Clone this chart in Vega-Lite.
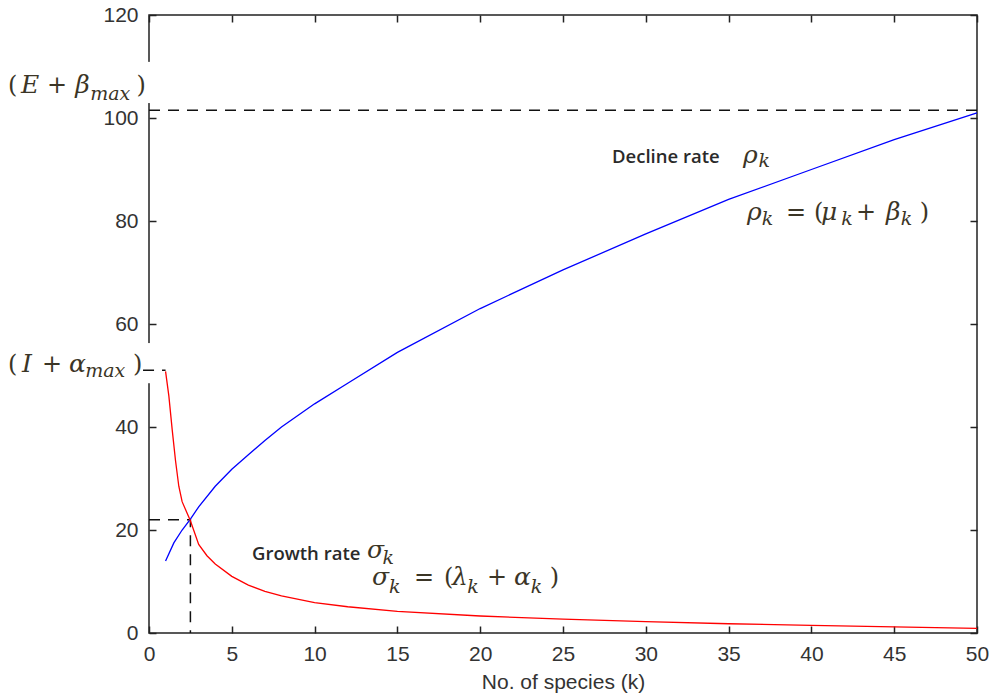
{
  "$schema": "https://vega.github.io/schema/vega-lite/v6.json",
  "width": 828,
  "height": 618,
  "autosize": {"type": "none"},
  "padding": {"left": 149, "top": 15, "right": 12, "bottom": 67},
  "background": "white",
  "config": {
    "view": {"stroke": "#222", "strokeWidth": 1.5},
    "axis": {"grid": false, "domain": false, "labelFlush": false, "tickColor": "#222", "tickWidth": 1.5, "tickSize": -7, "labelFont": "Liberation Sans", "labelFontSize": 21, "labelColor": "#333", "titleFont": "Liberation Sans", "titleFontSize": 21, "titleFontWeight": "normal", "titleColor": "#333"}
  },
  "datasets": {
    "curves": [
      {"k": 1, "v": 14.0, "s": "rho"},
      {"k": 1.5, "v": 17.5, "s": "rho"},
      {"k": 2, "v": 20.0, "s": "rho"},
      {"k": 2.5, "v": 22.1, "s": "rho"},
      {"k": 3, "v": 24.5, "s": "rho"},
      {"k": 4, "v": 28.5, "s": "rho"},
      {"k": 5, "v": 31.8, "s": "rho"},
      {"k": 6, "v": 34.6, "s": "rho"},
      {"k": 7, "v": 37.4, "s": "rho"},
      {"k": 8, "v": 40.0, "s": "rho"},
      {"k": 10, "v": 44.5, "s": "rho"},
      {"k": 12, "v": 48.5, "s": "rho"},
      {"k": 15, "v": 54.5, "s": "rho"},
      {"k": 20, "v": 63.0, "s": "rho"},
      {"k": 25, "v": 70.5, "s": "rho"},
      {"k": 30, "v": 77.5, "s": "rho"},
      {"k": 35, "v": 84.2, "s": "rho"},
      {"k": 40, "v": 90.0, "s": "rho"},
      {"k": 45, "v": 95.8, "s": "rho"},
      {"k": 50, "v": 101.0, "s": "rho"},
      {"k": 1, "v": 50.8, "s": "sigma"},
      {"k": 1.2, "v": 46.0, "s": "sigma"},
      {"k": 1.4, "v": 39.5, "s": "sigma"},
      {"k": 1.6, "v": 33.5, "s": "sigma"},
      {"k": 1.8, "v": 28.5, "s": "sigma"},
      {"k": 2, "v": 25.5, "s": "sigma"},
      {"k": 2.5, "v": 21.8, "s": "sigma"},
      {"k": 3, "v": 17.2, "s": "sigma"},
      {"k": 3.5, "v": 15.0, "s": "sigma"},
      {"k": 4, "v": 13.4, "s": "sigma"},
      {"k": 5, "v": 11.0, "s": "sigma"},
      {"k": 6, "v": 9.3, "s": "sigma"},
      {"k": 7, "v": 8.1, "s": "sigma"},
      {"k": 8, "v": 7.2, "s": "sigma"},
      {"k": 10, "v": 5.9, "s": "sigma"},
      {"k": 12, "v": 5.1, "s": "sigma"},
      {"k": 15, "v": 4.2, "s": "sigma"},
      {"k": 20, "v": 3.3, "s": "sigma"},
      {"k": 25, "v": 2.7, "s": "sigma"},
      {"k": 30, "v": 2.2, "s": "sigma"},
      {"k": 35, "v": 1.8, "s": "sigma"},
      {"k": 40, "v": 1.5, "s": "sigma"},
      {"k": 45, "v": 1.2, "s": "sigma"},
      {"k": 50, "v": 0.9, "s": "sigma"}
    ],
    "dashes": [
      {"k": 0, "v": 101.5, "g": "a"},
      {"k": 50, "v": 101.5, "g": "a"},
      {"k": 0, "v": 22, "g": "b"},
      {"k": 2.5, "v": 22, "g": "b"},
      {"k": 2.5, "v": 0, "g": "b"},
      {"k": -0.36, "v": 51, "g": "c"},
      {"k": 1, "v": 51, "g": "c"}
    ],
    "gaps": [
      {"k": 0, "v": 102.9, "v2": 110.9},
      {"k": 0, "v": 48.5, "v2": 56.3}
    ],
    "words": [
      {"k": 27.96, "v": 91.26, "t": "Decline rate"},
      {"k": 6.22, "v": 14.17, "t": "Growth rate"}
    ],
    "letters": [
      {"k": -7.73, "v": 104.85, "t": "E"},
      {"k": -4.45, "v": 104.85, "t": "β"},
      {"k": -7.67, "v": 50.68, "t": "I"},
      {"k": -4.83, "v": 50.68, "t": "α"},
      {"k": 35.87, "v": 91.26, "t": "ρ"},
      {"k": 36.11, "v": 80.19, "t": "ρ"},
      {"k": 40.58, "v": 80.19, "t": "μ"},
      {"k": 44.50, "v": 80.19, "t": "β"},
      {"k": 13.16, "v": 14.56, "t": "σ"},
      {"k": 13.47, "v": 9.32, "t": "σ"},
      {"k": 18.30, "v": 9.32, "t": "λ"},
      {"k": 22.04, "v": 9.32, "t": "α"}
    ],
    "symbols": [
      {"k": -8.51, "v": 104.85, "t": "("},
      {"k": -6.16, "v": 104.85, "t": "+"},
      {"k": -0.75, "v": 104.85, "t": ")"},
      {"k": -8.51, "v": 50.68, "t": "("},
      {"k": -6.46, "v": 50.68, "t": "+"},
      {"k": -0.97, "v": 50.68, "t": ")"},
      {"k": 38.47, "v": 80.19, "t": "="},
      {"k": 40.16, "v": 80.19, "t": "("},
      {"k": 42.69, "v": 80.19, "t": "+"},
      {"k": 46.55, "v": 80.19, "t": ")"},
      {"k": 16.00, "v": 9.32, "t": "="},
      {"k": 17.81, "v": 9.32, "t": "("},
      {"k": 20.41, "v": 9.32, "t": "+"},
      {"k": 24.20, "v": 9.32, "t": ")"}
    ],
    "subs": [
      {"k": -3.55, "v": 103.5, "t": "max"},
      {"k": -3.85, "v": 49.71, "t": "max"},
      {"k": 36.80, "v": 90.49, "t": "k"},
      {"k": 37.00, "v": 79.22, "t": "k"},
      {"k": 41.80, "v": 79.22, "t": "k"},
      {"k": 45.40, "v": 79.22, "t": "k"},
      {"k": 14.10, "v": 13.40, "t": "k"},
      {"k": 14.50, "v": 7.77, "t": "k"},
      {"k": 19.22, "v": 7.77, "t": "k"},
      {"k": 23.05, "v": 7.77, "t": "k"}
    ]
  },
  "layer": [
    {
      "data": {"name": "gaps"},
      "mark": {"type": "rule", "color": "white", "strokeWidth": 5},
      "encoding": {
        "x": {"field": "k", "type": "quantitative", "scale": {"domain": [0, 50], "nice": false, "zero": false}, "axis": {"orient": "bottom", "values": [0, 5, 10, 15, 20, 25, 30, 35, 40, 45, 50], "title": "No. of species (k)", "labelPadding": 17, "titlePadding": 7}},
        "y": {"field": "v", "type": "quantitative", "scale": {"domain": [0, 120], "nice": false}, "axis": {"orient": "left", "values": [0, 20, 40, 60, 80, 100, 120], "title": null, "labelPadding": 18}},
        "y2": {"field": "v2"}
      }
    },
    {
      "data": {"name": "dashes"},
      "mark": {"type": "line", "color": "#111", "strokeWidth": 1.5, "strokeDash": [11, 8]},
      "encoding": {
        "x": {"field": "k", "type": "quantitative", "axis": {"orient": "top", "values": [0, 5, 10, 15, 20, 25, 30, 35, 40, 45, 50], "labels": false, "title": null}},
        "y": {"field": "v", "type": "quantitative", "axis": {"orient": "right", "values": [0, 20, 40, 60, 80, 100, 120], "labels": false, "title": null}},
        "detail": {"field": "g"},
        "order": {"field": "k", "sort": "ascending"}
      }
    },
    {
      "data": {"name": "curves"},
      "mark": {"type": "line", "strokeWidth": 1.3},
      "encoding": {
        "x": {"field": "k", "type": "quantitative", "axis": null},
        "y": {"field": "v", "type": "quantitative", "axis": null},
        "color": {"field": "s", "type": "nominal", "scale": {"domain": ["rho", "sigma"], "range": ["#0000ff", "#ff0000"]}, "legend": null}
      }
    },
    {
      "data": {"name": "words"},
      "mark": {"type": "text", "align": "left", "baseline": "alphabetic", "font": "Open Sans", "fontSize": 18.5, "fontWeight": 600, "color": "#2a2a2a"},
      "encoding": {
        "x": {"field": "k", "type": "quantitative", "axis": null},
        "y": {"field": "v", "type": "quantitative", "axis": null},
        "text": {"field": "t"}
      }
    },
    {
      "data": {"name": "letters"},
      "mark": {"type": "text", "align": "left", "baseline": "alphabetic", "font": "DejaVu Serif", "fontStyle": "italic", "fontSize": 25, "color": "#3b3526"},
      "encoding": {
        "x": {"field": "k", "type": "quantitative", "axis": null},
        "y": {"field": "v", "type": "quantitative", "axis": null},
        "text": {"field": "t"}
      }
    },
    {
      "data": {"name": "symbols"},
      "mark": {"type": "text", "align": "left", "baseline": "alphabetic", "font": "DejaVu Serif", "fontSize": 24, "color": "#3b3526"},
      "encoding": {
        "x": {"field": "k", "type": "quantitative", "axis": null},
        "y": {"field": "v", "type": "quantitative", "axis": null},
        "text": {"field": "t"}
      }
    },
    {
      "data": {"name": "subs"},
      "mark": {"type": "text", "align": "left", "baseline": "alphabetic", "font": "DejaVu Serif", "fontStyle": "italic", "fontSize": 19, "color": "#3b3526"},
      "encoding": {
        "x": {"field": "k", "type": "quantitative", "axis": null},
        "y": {"field": "v", "type": "quantitative", "axis": null},
        "text": {"field": "t"}
      }
    }
  ],
  "resolve": {"axis": {"x": "independent", "y": "independent"}}
}
